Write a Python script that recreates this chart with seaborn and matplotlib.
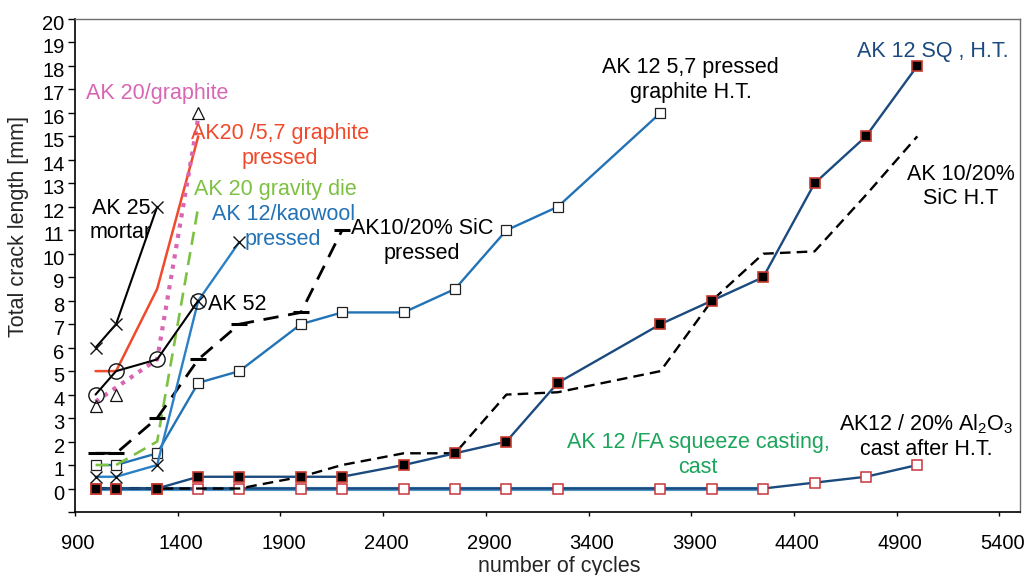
import numpy as np
import pandas as pd
import matplotlib
matplotlib.use("Agg")
import matplotlib.pyplot as plt
import matplotlib.transforms as mtransforms
import seaborn as sns

# ---- Data ----
cycles_full = [1000, 1100, 1300, 1500, 1700, 2000, 2200, 2500, 2750, 3000,
               3250, 3750, 4000, 4250, 4500, 4750, 5000]

# AK 12 SQ, H.T.
sq_ht_y = [0, 0, 0, 0.5, 0.5, 0.5, 0.5, 1, 1.5, 2, 4.5, 7, 8, 9, 13, 15, 18]
# AK12 / 20% Al2O3 cast after H.T.
al2o3_y = [0, 0, 0, 0, 0, 0, 0, 0, 0, 0, 0, 0, 0, 0, 0.25, 0.5, 1]
# AK 12 /FA squeeze casting, cast (sits on the zero line)
fa_x = [1000, 1100, 1300, 1500, 1700, 2000, 2200, 2500, 2750, 3000, 3250, 3750, 4000, 4250]
fa_y = [0, 0, 0, 0, 0, 0, 0, 0, 0, 0, 0, 0, 0, 0]
# AK 10/20% SiC H.T
sic_ht_x = [1000, 1100, 1300, 1700, 2000, 2200, 2500, 2750, 3000, 3250,
            3750, 4000, 4250, 4500, 4750, 5000]
sic_ht_y = [0, 0, 0, 0, 0.5, 1, 1.5, 1.5, 4, 4.1, 5, 8, 10, 10.1, 12.5, 15]
# AK10/20% SiC pressed
sic_pr_x = [1000, 1100, 1300, 1500, 1700, 2000, 2200]
sic_pr_y = [1.5, 1.5, 3, 5.5, 7, 7.5, 11]
# AK 12 5,7 pressed graphite H.T.
gr_ht_x = [1000, 1100, 1300, 1500, 1700, 2000, 2200, 2500, 2750, 3000, 3250, 3750]
gr_ht_y = [1, 1, 1.5, 4.5, 5, 7, 7.5, 7.5, 8.5, 11, 12, 16]
# AK 12/kaowool pressed
kao_x = [1000, 1100, 1300, 1500, 1700]
kao_y = [0.5, 0.5, 1, 8, 10.5]
# AK 52
ak52_x = [1000, 1100, 1300, 1500]
ak52_y = [4, 5, 5.5, 8]
# AK 25 mortar
ak25_x = [1000, 1100, 1300]
ak25_y = [6, 7, 12]
# AK20 /5,7 graphite pressed
gr_pr_x = [1000, 1100, 1300, 1500]
gr_pr_y = [5, 5, 8.5, 15]
# AK 20/graphite (dotted line + triangle points)
ak20gr_x = [1000, 1300, 1500]
ak20gr_y = [3.7, 5.5, 15.8]
ak20gr_pts_x = [1000, 1100, 1500]
ak20gr_pts_y = [3.5, 4, 16]
# AK 20 gravity die
grav_x = [1000, 1100, 1300, 1500]
grav_y = [1, 1, 2, 12]

x_ticks = list(range(900, 5401, 500))
y_ticks = list(range(-1, 21))

# ---- Style ----
sns.set_theme(style="ticks")
plt.rcParams['font.family'] = ['Liberation Sans', 'DejaVu Sans']
plt.rcParams['mathtext.fontset'] = 'custom'
plt.rcParams['mathtext.rm'] = 'Liberation Sans'
plt.rcParams['mathtext.default'] = 'regular'

fig = plt.figure(figsize=(10.3, 5.75), dpi=100)
ax = fig.add_axes([0.0728, 0.1096, 0.9175, 0.8574])

navy = "#1b4a7e"
blue = "#2272b6"
red_edge = "#c83a2e"

def line(x, y, **kw):
    sns.lineplot(x=x, y=y, ax=ax, sort=False, **kw)

# zero line underlay (AK 12 /FA)
line(fa_x, fa_y, color="#4f95c8", linewidth=3.0, zorder=2)

# AK12 / 20% Al2O3
line(cycles_full, al2o3_y, color=navy, linewidth=1.7, marker="s", markersize=6.5,
     markerfacecolor="white", markeredgecolor="#c8363c", markeredgewidth=1.1, zorder=3)

# AK 10/20% SiC H.T
line(sic_ht_x, sic_ht_y, color="black", linewidth=1.7,
     linestyle=(0, (4.5, 2.6)), zorder=4)

# AK 12 SQ, H.T.
line(cycles_full, sq_ht_y, color=navy, linewidth=1.7, marker="s", markersize=7.5,
     markerfacecolor="black", markeredgecolor=red_edge, markeredgewidth=1.2, zorder=5)

# AK 12 5,7 pressed graphite H.T.
line(gr_ht_x, gr_ht_y, color=blue, linewidth=1.7, marker="s", markersize=7,
     markerfacecolor="white", markeredgecolor="#222222", markeredgewidth=0.9, zorder=4)

# AK 20 gravity die
line(grav_x, grav_y, color="#7dc142", linewidth=1.9,
     linestyle=(0, (5, 2.8)), zorder=4)

# AK10/20% SiC pressed
line(sic_pr_x, sic_pr_y, color="black", linewidth=2.0, linestyle=(0, (5.5, 3.5)),
     marker="_", markersize=11, markeredgecolor="black", markeredgewidth=2.2, zorder=4)

# AK 12/kaowool pressed
line(kao_x, kao_y, color="#2a80c6", linewidth=1.7, marker="x", markersize=8,
     markeredgecolor="#111111", markeredgewidth=1.0, zorder=4)

# AK20 /5,7 graphite pressed
line(gr_pr_x, gr_pr_y, color="#f04a2c", linewidth=1.8, zorder=3)

# AK 20/graphite
line(ak20gr_x, ak20gr_y, color="#d966b3", linewidth=3.0,
     linestyle=(0, (1, 1.5)), zorder=3)
line(ak20gr_pts_x, ak20gr_pts_y, color="black", linestyle="", marker="^",
     markersize=9, markerfacecolor="white", markeredgecolor="#111111",
     markeredgewidth=0.9, zorder=5)

# AK 52
line(ak52_x, ak52_y, color="black", linewidth=1.5, marker="o", markersize=11,
     markerfacecolor="none", markeredgecolor="#111111", markeredgewidth=1.0, zorder=5)

# AK 25 mortar
line(ak25_x, ak25_y, color="black", linewidth=1.5, marker="x", markersize=9,
     markeredgecolor="#111111", markeredgewidth=1.0, zorder=5)

# ---- Labels on the curves ----
fs = 15.5
ax.text(1299, 16.59, "AK 20/graphite", color="#d966b3", fontsize=fs, ha="center", va="baseline")
ax.text(1898, 14.59, "AK20 /5,7 graphite\npressed", color="#f04a2c", fontsize=fs,
        ha="center", va="center")
ax.text(1874, 12.5, "AK 20 gravity die", color="#7dc142", fontsize=fs, ha="center", va="baseline")
ax.text(1913, 11.14, "AK 12/kaowool\npressed", color="#2272b6", fontsize=fs,
        ha="center", va="center")
ax.text(1124, 11.43, "AK 25\nmortar", color="black", fontsize=fs, ha="center", va="center")
ax.text(1689, 7.6, "AK 52", color="black", fontsize=fs, ha="center", va="baseline")
ax.text(2590, 10.54, "AK10/20% SiC\npressed", color="black", fontsize=fs,
        ha="center", va="center")
ax.text(3896, 17.4, "AK 12 5,7 pressed\ngraphite H.T.", color="black", fontsize=fs,
        ha="center", va="center")
ax.text(5077, 18.38, "AK 12 SQ , H.T.", color=navy, fontsize=fs, ha="center", va="baseline")
ax.text(5211, 12.86, "AK 10/20%\nSiC H.T", color="black", fontsize=fs,
        ha="center", va="center")
ax.text(3932, 1.43, "AK 12 /FA squeeze casting,\ncast", color="#1aa55a", fontsize=fs,
        ha="center", va="center")
ax.text(5043, 2.24, "AK12 / 20% Al$_2$O$_3$\ncast after H.T.", color="black", fontsize=fs,
        ha="center", va="center")

# ---- Axes settings ----
ax.set_xlim(900, 5500)
ax.set_ylim(-1, 20)
ax.set_xticks(x_ticks)
ax.set_xticklabels([str(t) for t in x_ticks])
ax.set_yticks(y_ticks)
ax.set_yticklabels(["" if t < 0 else str(t) for t in y_ticks])
ax.tick_params(axis="x", labelsize=14.5, length=3, width=1, pad=12.5, colors="black")
ax.tick_params(axis="y", labelsize=14.5, length=5, width=1, pad=2.4, colors="black")

ax.set_xlabel("number of cycles", fontsize=15.5)
ax.set_ylabel("Total crack length [mm]", fontsize=15.5)
ax.xaxis.set_label_coords(0.5127, -0.089)
ax.yaxis.set_label_coords(-0.049, 0.579)

for side in ["left", "bottom"]:
    ax.spines[side].set_color("black")
    ax.spines[side].set_linewidth(1.2)
for side in ["top", "right"]:
    ax.spines[side].set_visible(True)
    ax.spines[side].set_color("#6e6e6e")
    ax.spines[side].set_linewidth(1.0)
ax.grid(False)

# small shifts of tick labels as in the original
dy = mtransforms.ScaledTranslation(0, -3.5 / 100, fig.dpi_scale_trans)
for lab in ax.get_yticklabels():
    lab.set_transform(lab.get_transform() + dy)
dx = mtransforms.ScaledTranslation(3 / 100, 0, fig.dpi_scale_trans)
for lab in ax.get_xticklabels():
    lab.set_transform(lab.get_transform() + dx)

fig.savefig("out.png", dpi=100)
